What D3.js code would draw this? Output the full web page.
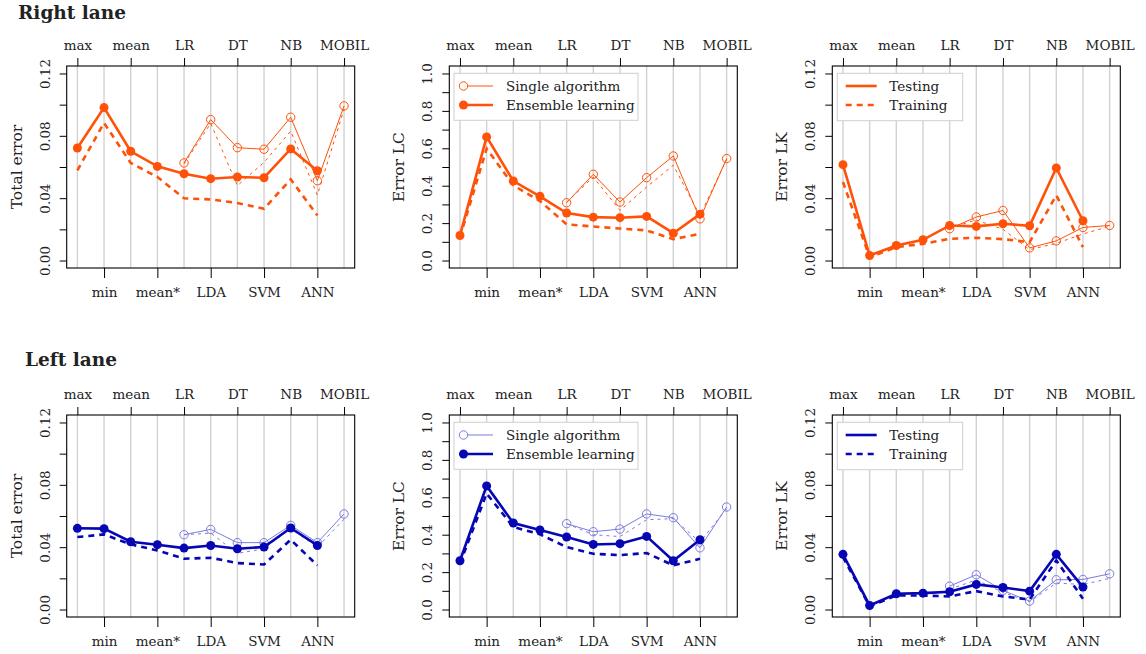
<!DOCTYPE html>
<html><head><meta charset="utf-8">
<script src="https://cdn.jsdelivr.net/npm/d3@7"></script>
<style>
html,body{margin:0;padding:0;background:#fff;}
svg text{font-family:"DejaVu Serif",serif;fill:#222;}
</style></head>
<body>
<svg id="chart" width="1146" height="654"></svg>
<script>
const categories = ["max","min","mean","mean*","LR","LDA","DT","SVM","NB","ANN","MOBIL"];
const topTickIdx = [0,2,4,6,8,10];
const bottomTickIdx = [1,3,5,7,9];
const singleStartIdx = 4;

const rowTitles = ["Right lane","Left lane"];
const yTitles = ["Total error","Error LC","Error LK"];
const yTicksSmall = [0,0.02,0.04,0.06,0.08,0.10,0.12];
const yLabelsSmall = [0,0.04,0.08,0.12];
const yTicksLC = [0,0.1,0.2,0.3,0.4,0.5,0.6,0.7,0.8,0.9,1.0];
const yLabelsLC = [0,0.2,0.4,0.6,0.8,1.0];

// Right lane
const rTotalEnsTest  = [0.0722,0.0981,0.0701,0.0604,0.0557,0.0525,0.0536,0.0531,0.0716,0.0576];
const rTotalEnsTrain = [0.0579,0.0883,0.0626,0.0536,0.0399,0.0392,0.0369,0.0332,0.0521,0.0289];
const rTotalSglTest  = [0.0626,0.0904,0.0724,0.0714,0.0919,0.0512,0.0992];
const rTotalSglTrain = [0.062,0.088,0.048,0.063,0.083,0.042,0.097];

const rLCEnsTest  = [0.134,0.661,0.425,0.343,0.254,0.232,0.229,0.236,0.146,0.248];
const rLCEnsTrain = [0.125,0.598,0.402,0.318,0.193,0.182,0.171,0.161,0.114,0.143];
const rLCSglTest  = [0.309,0.461,0.3125,0.443,0.559,0.223,0.545];
const rLCSglTrain = [0.312,0.446,0.268,0.393,0.509,0.241,0.54];

const rLKEnsTest  = [0.0615,0.0032,0.0096,0.0133,0.0225,0.0219,0.0236,0.0223,0.0594,0.0255];
const rLKEnsTrain = [0.0504,0.0021,0.0086,0.0107,0.0139,0.0146,0.0137,0.0118,0.0418,0.0086];
const rLKSglTest  = [0.0204,0.0279,0.0321,0.0081,0.0126,0.0212,0.0225];
const rLKSglTrain = [0.021,0.026,0.020,0.007,0.011,0.017,0.022];

// Left lane
const lTotalEnsTest  = [0.0521,0.0519,0.0435,0.0416,0.0394,0.0411,0.0390,0.0401,0.0523,0.0411];
const lTotalEnsTrain = [0.0465,0.0482,0.0418,0.0379,0.0326,0.0332,0.0298,0.0289,0.0448,0.0283];
const lTotalSglTest  = [0.0480,0.0514,0.0429,0.0429,0.0540,0.0429,0.0613];
const lTotalSglTrain = [0.048,0.049,0.036,0.039,0.052,0.040,0.058];

const lLCEnsTest  = [0.261,0.661,0.4625,0.425,0.3875,0.348,0.352,0.391,0.261,0.373];
const lLCEnsTrain = [0.245,0.620,0.441,0.402,0.334,0.298,0.291,0.302,0.236,0.271];
const lLCSglTest  = [0.459,0.416,0.430,0.511,0.491,0.330,0.548];
const lLCSglTrain = [0.459,0.400,0.390,0.480,0.486,0.360,0.540];

const lLKEnsTest  = [0.0354,0.0026,0.0101,0.0105,0.0114,0.0161,0.0141,0.0118,0.0354,0.0144];
const lLKEnsTrain = [0.0336,0.0021,0.0090,0.0090,0.0084,0.0118,0.0084,0.0064,0.0315,0.0069];
const lLKSglTest  = [0.0150,0.0223,0.0122,0.0054,0.0191,0.0193,0.0229];
const lLKSglTrain = [0.013,0.019,0.011,0.005,0.017,0.016,0.020];

const rowColors = [
  {main:"#FF5208", single:"#FF5208"},
  {main:"#0606B4", single:"#7B7BE0"}
];

const panels = [
  [ {ens:rTotalEnsTest, ensTr:rTotalEnsTrain, sgl:rTotalSglTest, sglTr:rTotalSglTrain, kind:"small", legend:null},
    {ens:rLCEnsTest, ensTr:rLCEnsTrain, sgl:rLCSglTest, sglTr:rLCSglTrain, kind:"lc", legend:"algo"},
    {ens:rLKEnsTest, ensTr:rLKEnsTrain, sgl:rLKSglTest, sglTr:rLKSglTrain, kind:"small", legend:"tt"} ],
  [ {ens:lTotalEnsTest, ensTr:lTotalEnsTrain, sgl:lTotalSglTest, sglTr:lTotalSglTrain, kind:"small", legend:null},
    {ens:lLCEnsTest, ensTr:lLCEnsTrain, sgl:lLCSglTest, sglTr:lLCSglTrain, kind:"lc", legend:"algo"},
    {ens:lLKEnsTest, ensTr:lLKEnsTrain, sgl:lLKSglTest, sglTr:lLKSglTrain, kind:"small", legend:"tt"} ]
];

const svg = d3.select("#chart");
const panelLefts = [66.7, 449.3, 832.3];
const panelTops = [66, 415];
const pw = 288, ph = 202;
const fs = 13.5;

// row titles
svg.append("text").attr("x",18).attr("y",19).attr("font-size",18.5).attr("font-weight","bold").text(rowTitles[0]);
svg.append("text").attr("x",25).attr("y",366).attr("font-size",18.5).attr("font-weight","bold").text(rowTitles[1]);

function ext(lo,hi){const r=hi-lo;return [lo-0.04*r, hi+0.04*r];}

panels.forEach((row, ri) => {
  row.forEach((p, ci) => {
    const g = svg.append("g").attr("transform",`translate(${panelLefts[ci]},${panelTops[ri]})`);
    const col = rowColors[ri];
    const x = d3.scaleLinear().domain(ext(0,10)).range([0,pw]);
    const yMax = p.kind==="lc" ? 1.0 : 0.12;
    const y = d3.scaleLinear().domain(ext(0,yMax)).range([ph,0]);
    const ticks = p.kind==="lc" ? yTicksLC : yTicksSmall;
    const labels = p.kind==="lc" ? yLabelsLC : yLabelsSmall;
    const fmt = p.kind==="lc" ? d3.format(".1f") : d3.format(".2f");

    // grid
    g.append("g").selectAll("line").data(categories).join("line")
      .attr("x1",(d,i)=>x(i)).attr("x2",(d,i)=>x(i)).attr("y1",0).attr("y2",ph)
      .attr("stroke","#d2d2d2").attr("stroke-width",1.4);

    // y axis
    const ya = g.append("g").call(d3.axisLeft(y).tickValues(ticks).tickSize(7).tickFormat(d=>labels.some(l=>Math.abs(l-d)<1e-9)?fmt(d):""));
    ya.select(".domain").remove();
    ya.selectAll(".tick line").attr("stroke","#000");
    ya.selectAll(".tick text").attr("font-size",fs).attr("font-family","DejaVu Serif")
      .attr("text-anchor","middle").attr("dy",0).attr("x",0).attr("y",0)
      .attr("transform","translate(-17,0) rotate(-90)").attr("fill","#222");
    // y title
    g.append("text").attr("transform",`translate(-45,${ph/2}) rotate(-90)`).attr("text-anchor","middle")
      .attr("font-size",15.5).text(yTitles[ci]);

    // top axis
    const ta = g.append("g").call(d3.axisTop(x).tickValues(topTickIdx).tickSize(8).tickPadding(8).tickFormat(i=>categories[i]));
    ta.select(".domain").remove();
    ta.selectAll(".tick line").attr("stroke","#000");
    ta.selectAll(".tick text").attr("font-size",fs).attr("font-family","DejaVu Serif").attr("fill","#222");
    // bottom axis
    const ba = g.append("g").attr("transform",`translate(0,${ph})`)
      .call(d3.axisBottom(x).tickValues(bottomTickIdx).tickSize(10).tickPadding(9).tickFormat(i=>categories[i]));
    ba.select(".domain").remove();
    ba.selectAll(".tick line").attr("stroke","#000");
    ba.selectAll(".tick text").attr("font-size",fs).attr("font-family","DejaVu Serif").attr("fill","#222");

    const lineE = d3.line().x((d,i)=>x(i)).y(d=>y(d));
    const lineS = d3.line().x((d,i)=>x(i+singleStartIdx)).y(d=>y(d));

    // single training (thin dashed)
    g.append("path").attr("d",lineS(p.sglTr)).attr("fill","none").attr("stroke",col.single)
      .attr("stroke-width",1).attr("stroke-dasharray","3,4");
    // single testing
    g.append("path").attr("d",lineS(p.sgl)).attr("fill","none").attr("stroke",col.single).attr("stroke-width",1);
    g.append("g").selectAll("circle").data(p.sgl).join("circle")
      .attr("cx",(d,i)=>x(i+singleStartIdx)).attr("cy",d=>y(d)).attr("r",4.2)
      .attr("fill","none").attr("stroke",col.single).attr("stroke-width",1);
    // ensemble training
    g.append("path").attr("d",lineE(p.ensTr)).attr("fill","none").attr("stroke",col.main)
      .attr("stroke-width",2.6).attr("stroke-dasharray","6,5");
    // ensemble testing
    g.append("path").attr("d",lineE(p.ens)).attr("fill","none").attr("stroke",col.main).attr("stroke-width",2.6);
    g.append("g").selectAll("circle").data(p.ens).join("circle")
      .attr("cx",(d,i)=>x(i)).attr("cy",d=>y(d)).attr("r",4.5).attr("fill",col.main);

    // box
    g.append("rect").attr("x",0).attr("y",0).attr("width",pw).attr("height",ph)
      .attr("fill","none").attr("stroke","#000").attr("stroke-width",1.1);

    // legends
    if (p.legend==="algo") {
      const lg = g.append("g").attr("transform","translate(4.7,7.3)");
      lg.append("rect").attr("width",184).attr("height",47).attr("fill","#fff").attr("stroke","#cfcfcf");
      const items = [{t:"Single algorithm", w:1, filled:false, c:col.single},{t:"Ensemble learning", w:2.6, filled:true, c:col.main}];
      items.forEach((it,k)=>{
        const yy = 12.7 + k*19;
        lg.append("line").attr("x1",5.5).attr("x2",39).attr("y1",yy).attr("y2",yy).attr("stroke",it.c).attr("stroke-width",it.w);
        lg.append("circle").attr("cx",5.5+4).attr("cy",yy).attr("r",it.filled?4.5:4.2)
          .attr("fill",it.filled?it.c:"#fff").attr("stroke",it.c).attr("stroke-width",it.filled?0:1);
        lg.append("text").attr("x",52).attr("y",yy).attr("dy","0.35em").attr("font-size",fs).text(it.t);
      });
    }
    if (p.legend==="tt") {
      const lg = g.append("g").attr("transform","translate(5,7.3)");
      lg.append("rect").attr("width",125.4).attr("height",47.4).attr("fill","#fff").attr("stroke","#cfcfcf");
      const items = [{t:"Testing", dash:null},{t:"Training", dash:"6,5"}];
      items.forEach((it,k)=>{
        const yy = 12.7 + k*19;
        const ln = lg.append("line").attr("x1",8.4).attr("x2",39.4).attr("y1",yy).attr("y2",yy).attr("stroke",col.main).attr("stroke-width",2.6);
        if (it.dash) ln.attr("stroke-dasharray",it.dash);
        lg.append("text").attr("x",52).attr("y",yy).attr("dy","0.35em").attr("font-size",fs).text(it.t);
      });
    }
  });
});
</script>
</body></html>
